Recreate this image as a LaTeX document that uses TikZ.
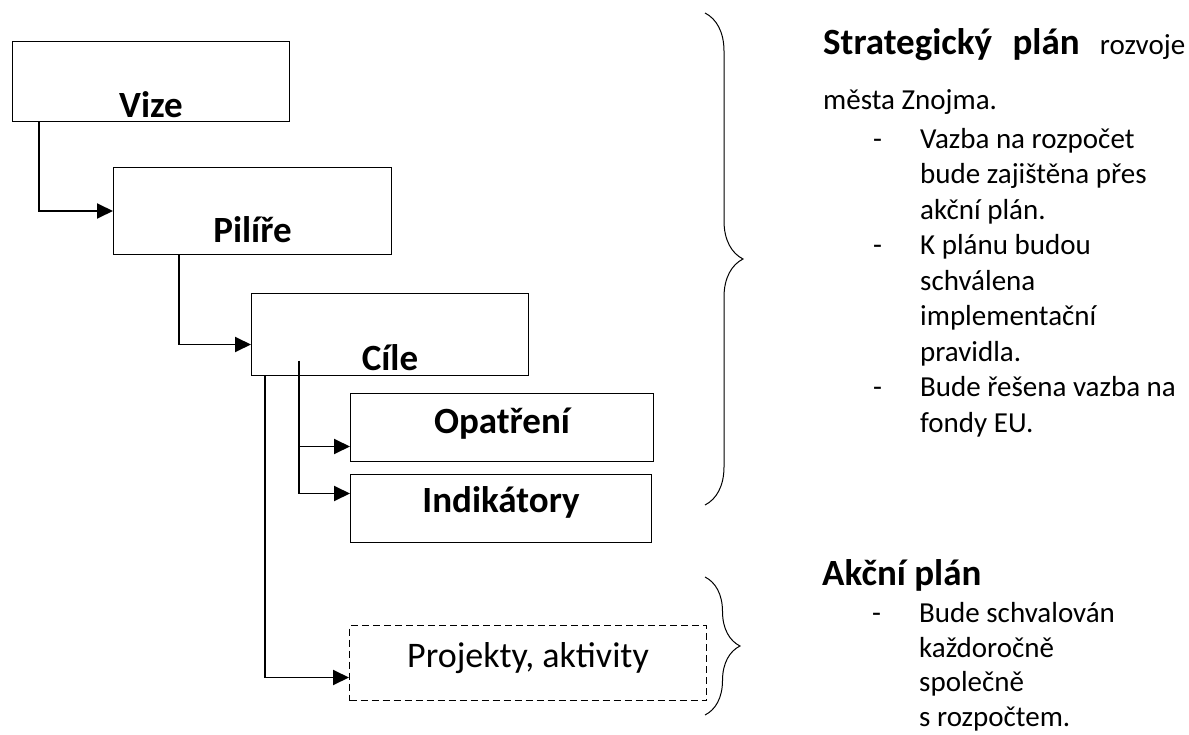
\documentclass[tikz,border=0pt]{standalone}
\usepackage{fontspec}
\setmainfont{Carlito}
\usepackage{tikz}
\usetikzlibrary{positioning,arrows.meta,decorations.pathreplacing}

\newcommand\bigbold{\fontsize{37}{45}\selectfont\bfseries}
\newcommand\dashitem{\hspace*{50pt}\makebox[47pt][l]{-}}
\newcommand\itemcont{\hspace*{97pt}}

\begin{document}
\begin{tikzpicture}[
    x=1pt, y=-1pt,
    box/.style={
        draw,
        line width=1pt,
        inner sep=0pt,
        anchor=north west,
        font=\bigbold
    },
    dashbox/.style={
        draw,
        line width=1pt,
        dash pattern=on 7pt off 4pt,
        inner sep=0pt,
        anchor=north west,
        font=\fontsize{36}{44}\selectfont
    },
    arrow/.style={-{Triangle[length=16pt,width=15pt]}, line width=1.9pt},
    brace/.style={decorate, decoration={brace, amplitude=#1}, line width=1pt},
    note/.style={anchor=base west, align=flush left, inner sep=0pt,
        text width=362pt, font=\fontsize{29}{35.5}\selectfont}
]
\useasboundingbox (0,0) rectangle (1189,735);

% boxes of the hierarchy
\node[box, minimum width=277pt, text height=76pt, text depth=4pt] (vize) at (12,41) {Vize};
\node[box, minimum width=278pt, text height=75pt, text depth=12pt] (pilire) at (113,167) {Pilíře};
\node[box, minimum width=277pt, text height=77pt, text depth=5pt] (cile) at (251,293) {Cíle};
\node[box, minimum width=303pt, text height=40pt, text depth=28pt] (opatreni) at (350,393) {Opatření};
\node[box, minimum width=301pt, text height=38pt, text depth=30pt] (indikatory) at (350,474) {Indikátory};
\node[dashbox, minimum width=357pt, text height=42pt, text depth=33pt] (projekty) at (349,625) {Projekty, aktivity};

% connectors
\draw[arrow] ([xshift=27pt]vize.south west) |- (pilire.west);
\draw[arrow] ([xshift=66pt]pilire.south west) |- ([yshift=-10pt]cile.west);
\coordinate (cilstub) at ([xshift=48pt,yshift=15pt]cile.south west);
\draw[arrow] (cilstub) |- ([yshift=-19pt]opatreni.west);
\draw[arrow] (cilstub) |- ([yshift=15pt]indikatory.west);
\draw[arrow] ([xshift=14pt]cile.south west) |- ([yshift=-14.5pt]projekty.west);

% braces
\draw[brace=38pt] (705,13) -- (705,505);
\draw[brace=35pt] (705,577) -- (705,715);

% texts on the right
\node[note] (strat) at (823,55)
{{\bigbold Strategický}\hfill{\bigbold plán}\hfill rozvoje\\[19pt]
města Znojma.\\[3.5pt]
\dashitem Vazba na rozpočet\\
\itemcont bude zajištěna přes\\
\itemcont akční plán.\\
\dashitem K plánu budou\\
\itemcont schválena\\
\itemcont implementační\\
\itemcont pravidla.\\
\dashitem Bude řešena vazba na\\
\itemcont fondy EU.};

\node[note, font=\fontsize{29}{34.5}\selectfont] (akcni) at (822,585)
{{\bigbold Akční plán}\\[3pt]
\dashitem Bude schvalován\\
\itemcont každoročně\\
\itemcont společně\\
\itemcont s~rozpočtem.};

\end{tikzpicture}
\end{document}
